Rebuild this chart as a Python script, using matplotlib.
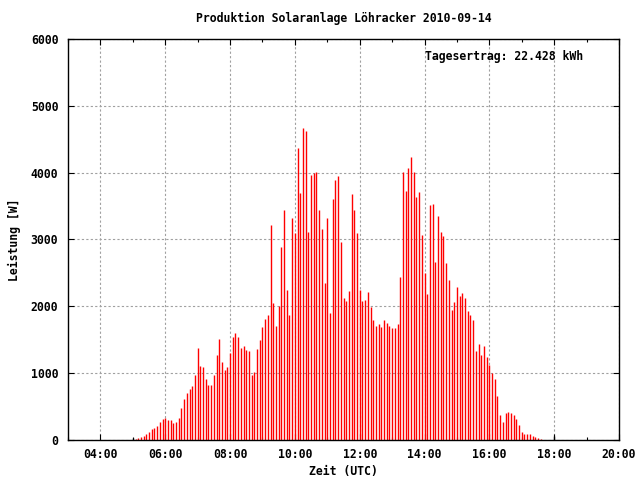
import matplotlib
matplotlib.use("Agg")
import matplotlib.pyplot as plt
import matplotlib.dates as mdates
import pandas as pd

# ---- data (5-minute samples, 05:00 .. 18:00 UTC) ----
start_time = "2010-09-14 05:00"
step = "5min"
power_w = [
    30, 15, 30, 45, 60, 90, 120, 165, 180, 210, 270, 315, 325, 300, 300, 255,
    270, 330, 480, 615, 705, 765, 810, 975, 1380, 1110, 1095, 915, 825, 825,
    975, 1275, 1515, 1170, 1050, 1095, 1305, 1545, 1605, 1545, 1380, 1410, 1340,
    1335, 975, 1020, 1365, 1500, 1695, 1815, 1875, 3210, 2055, 1710, 2010,
    2895, 3435, 2250, 1875, 3315, 3090, 4365, 3690, 4665, 4620, 3105, 3960, 3990,
    4005, 3435, 3150, 2355, 3315, 1905, 3600, 3885, 3945, 2970, 2130, 2085, 2235,
    3675, 3435, 3090, 2250, 2085, 2100, 2220, 1995, 1800, 1710, 1740, 1695, 1800,
    1755, 1710, 1680, 1680, 1740, 2445, 4005, 3720, 4065, 4230, 4005, 3630, 3705,
    3060, 2505, 2190, 3510, 3525, 2670, 3345, 3105, 3045, 2655, 2400, 1950, 2070,
    2295, 2160, 2205, 2130, 1935, 1875, 1800, 1335, 1440,
    1275, 1410, 1245, 1125, 1005, 915, 660, 375, 270, 405, 420, 405, 375, 315,
    225, 120, 90, 90, 90, 60, 45, 30, 15, 0, 0, 0, 0, 60,
]
# colour of each impulse: first and last sample are black markers
bar_colors = ["#000000"] + ["#ff0000"] * (len(power_w) - 2) + ["#000000"]

title = "Produktion Solaranlage Löhracker 2010-09-14"
xlabel = "Zeit (UTC)"
ylabel = "Leistung [W]"
note = "Tagesertrag: 22.428 kWh"
x_min, x_max = "2010-09-14 03:00", "2010-09-14 20:00"
y_ticks = [0, 1000, 2000, 3000, 4000, 5000, 6000]

times = pd.date_range(start=start_time, periods=len(power_w), freq=step)

font = dict(family="DejaVu Sans Mono", weight="bold", size=8.3)

fig = plt.figure(figsize=(6.4, 4.8), dpi=100)
ax = fig.add_axes([68 / 640, 40 / 480, 551 / 640, 401 / 480])

ax.vlines(times, 0, power_w, colors=bar_colors, linewidth=1.0)

ax.set_xlim(pd.Timestamp(x_min), pd.Timestamp(x_max))
ax.set_ylim(0, 6000)
ax.set_yticks(y_ticks)
ax.xaxis.set_major_locator(mdates.HourLocator(byhour=range(0, 24, 2)))
ax.xaxis.set_minor_locator(mdates.HourLocator())
ax.xaxis.set_major_formatter(mdates.DateFormatter("%H:%M"))

ax.grid(True, which="major", color="#a0a0a0", linestyle=(0, (2.0, 2.0)), linewidth=0.8)
ax.set_axisbelow(True)
ax.tick_params(axis="both", which="both", direction="in", top=True, right=True,
               length=4, width=0.8, color="black")
ax.tick_params(axis="both", which="minor", length=2.5)
ax.tick_params(axis="x", pad=6)
ax.tick_params(axis="y", pad=7)
fp = matplotlib.font_manager.FontProperties(**font)
for lab in ax.get_xticklabels() + ax.get_yticklabels():
    lab.set_fontproperties(fp)
for sp in ax.spines.values():
    sp.set_linewidth(1.0)
    sp.set_color("black")

fig.text(343.5 / 640, 1 - 18 / 480, title, ha="center", va="center", **font)
fig.text(343.5 / 640, 1 - 472 / 480, xlabel, ha="center", va="center", **font)
fig.text(14 / 640, 1 - 240 / 480, ylabel, ha="center", va="center", rotation=90, **font)
ax.text(0.648, 0.957, note, transform=ax.transAxes, ha="left", va="center", **font)

fig.savefig("out.png", dpi=100)
